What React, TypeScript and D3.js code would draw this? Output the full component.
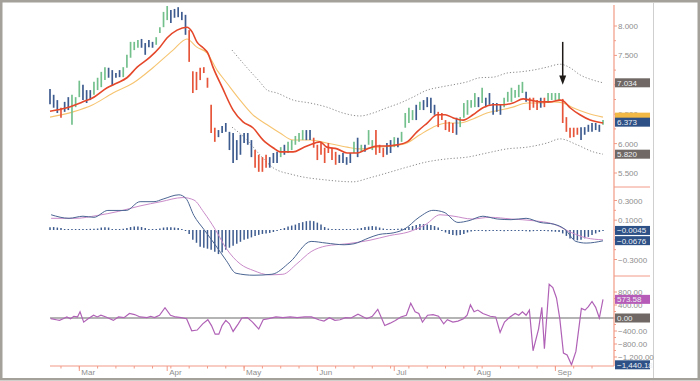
import React from "react";
import * as d3 from "d3";

// ---------- price bars (one per trading day) ----------
const barHigh = [
  6.93, 6.83, 6.74, 6.61, 6.71, 6.79, 6.83, 6.79, 7.07, 7.0,
  6.91, 6.91, 7.05, 7.12, 7.22, 7.3, 7.29, 7.25, 7.2, 7.25,
  7.3, 7.51, 7.73, 7.73, 7.76, 7.78, 7.71, 7.76, 7.73, 7.81,
  7.98, 8.24, 8.34, 8.27, 8.29, 8.32, 8.24, 8.19, 7.93, 7.23,
  7.22, 7.29, 7.3, 7.12, 6.66, 6.27, 6.23, 6.3, 6.35, 6.2,
  6.18, 6.06, 6.15, 6.18, 6.18, 6.06, 5.89, 5.81, 5.77, 5.81,
  5.77, 5.84,
  5.86, 5.94, 5.98, 6.03, 6.06, 6.13, 6.18, 6.23, 6.23, 6.23,
  6.1, 5.98, 6.01, 5.93, 6.01, 5.93, 5.86, 5.81, 5.84, 5.77,
  5.84, 6.03, 6.1, 5.98, 5.98, 6.23, 6.06, 6.23, 5.98, 5.93,
  6.01, 6.06, 6.11, 6.1, 6.2, 6.52, 6.61, 6.57, 6.66, 6.71,
  6.74, 6.79, 6.78, 6.66, 6.54, 6.52, 6.4, 6.37, 6.35, 6.44,
  6.45, 6.69, 6.74, 6.74, 6.86, 6.79, 6.95, 6.78, 6.86, 6.69,
  6.69, 6.66, 6.78, 6.88, 6.95, 6.91, 7.0, 7.05, 6.88, 6.78,
  6.78, 6.74, 6.78, 6.78, 6.86, 6.86, 6.86, 6.86, 6.76, 6.45,
  6.27, 6.27, 6.27, 6.28, 6.28, 6.32, 6.35, 6.35, 6.32, 6.4,
];
const barLow = [
  6.67, 6.61, 6.52, 6.44, 6.54, 6.57, 6.32, 6.62, 6.79, 6.74,
  6.69, 6.74, 6.83, 6.91, 6.96, 7.08, 7.12, 6.98, 7.12, 7.13,
  7.13, 7.29, 7.46, 7.59, 7.63, 7.63, 7.51, 7.64, 7.63, 7.68,
  7.88, 7.98, 8.1, 8.05, 8.14, 8.15, 8.1, 7.85, 7.39, 6.86,
  6.91, 7.08, 7.2, 6.95, 6.18, 6.03, 6.11, 6.18, 6.2, 5.89,
  5.67, 5.72, 5.81, 6.01, 5.98, 5.77, 5.59, 5.52, 5.52, 5.59,
  5.59, 5.67,
  5.67, 5.77, 5.81, 5.84, 5.89, 5.98, 6.03, 6.06, 6.06, 6.06,
  5.93, 5.72, 5.81, 5.67, 5.84, 5.72, 5.64, 5.67, 5.67, 5.64,
  5.67, 5.84, 5.77, 5.86, 5.86, 5.98, 5.89, 5.81, 5.84, 5.77,
  5.81, 5.84, 5.94, 5.94, 6.03, 6.27, 6.35, 6.4, 6.4, 6.57,
  6.57, 6.62, 6.52, 6.49, 6.28, 6.4, 6.23, 6.2, 6.18, 6.15,
  6.28, 6.44, 6.49, 6.61, 6.62, 6.62, 6.69, 6.62, 6.66, 6.49,
  6.54, 6.49, 6.62, 6.71, 6.71, 6.78, 6.79, 6.86, 6.71, 6.57,
  6.61, 6.57, 6.61, 6.62, 6.69, 6.74, 6.74, 6.74, 6.35, 6.2,
  6.1, 6.11, 6.15, 6.06, 6.15, 6.2, 6.2, 6.23, 6.2, 6.32,
];
// g = up (green), b = neutral (blue), r = down (red)
const barColor = (
  "bbbrbbgggbbbggggbbbbgggggbbbbggggbbbbbrrrrrrrrbbbbbbbbbbrrrrbb" +
  "bgbgggggbb" + "rrrrrrr" + "bbbb" + "gbgbgg" + "rrr" + "bbgbgggg" + "bgbbbb" +
  "rrrrr" + "b" + "ggggg" + "bgbbbbb" + "gggggg" + "b" + "rrr" + "br" + "gggg" +
  "rrrrr" + "bbbbbb" + "g"
).split("");

// ---------- overlays: [bar index, value] ----------
const maFast: [number, number][] = [
  [0, 6.55], [4.6, 6.61], [9, 6.71], [11.7, 6.78], [15.6, 6.95], [18.3, 7.03], [21, 7.12],
  [23.8, 7.3], [27.3, 7.47], [30, 7.64], [32, 7.8], [34.7, 7.93], [37.4, 7.98], [38.8, 7.9],
  [40.1, 7.73], [41.8, 7.63], [43.1, 7.54], [44.5, 7.3], [47, 6.96], [50, 6.57], [52.7, 6.37],
  [55.4, 6.27], [58.2, 6.06], [60.9, 5.93], [62.8, 5.86], [66.4, 5.86], [69.1, 5.93], [72.4, 6.01],
  [73.7, 6.03], [75.6, 5.94], [78.4, 5.91], [81.1, 5.84], [83.8, 5.84], [86.6, 5.91], [89.3, 5.96],
  [92, 5.96], [94.8, 5.98], [97.5, 6.03], [100.2, 6.2], [103, 6.35], [105.7, 6.49], [107.9, 6.49],
  [110, 6.44], [112.8, 6.4], [115.5, 6.49], [118.2, 6.61], [121, 6.66], [123.7, 6.66], [126.4, 6.69],
  [129.2, 6.76], [131.1, 6.74], [133.8, 6.71], [136.5, 6.71], [139.3, 6.74], [140.1, 6.73],
  [142, 6.61], [144.7, 6.49], [147.5, 6.4], [151, 6.35],
];
const maSlow: [number, number][] = [
  [0, 6.45], [6.3, 6.54], [11.7, 6.66], [17.2, 6.86], [22.7, 7.03], [28.1, 7.29], [33.6, 7.59],
  [37.4, 7.78], [40.1, 7.64], [42.9, 7.54], [45.6, 7.25], [48.3, 7.03], [51.9, 6.74], [55.4, 6.49],
  [59.3, 6.32], [62.8, 6.18], [66.4, 6.06], [71, 6.06], [75.6, 6.01], [81.1, 5.94], [84.7, 5.91],
  [89.3, 5.94], [93.7, 5.96], [97.5, 6.01], [101, 6.15], [104.6, 6.28], [108.4, 6.35], [112, 6.35],
  [115.5, 6.42], [119.3, 6.52], [122.9, 6.57], [126.4, 6.62], [130.3, 6.69], [133.8, 6.69],
  [137.4, 6.71], [140.1, 6.69], [142.8, 6.61], [146.6, 6.52], [151, 6.45],
];
const bandUpper: [number, number][] = [
  [49.7, 7.59], [53.8, 7.29], [57.3, 7.05], [59.3, 6.91], [62, 6.86], [66.4, 6.74], [71, 6.69],
  [75.6, 6.62], [80, 6.52], [84.7, 6.47], [88.2, 6.52], [92, 6.61], [95.6, 6.69], [99.1, 6.79],
  [103, 6.91], [106.5, 6.96], [110, 7.0], [113.9, 7.05], [117.4, 7.12], [121, 7.13], [124.8, 7.2],
  [128.3, 7.22], [131.9, 7.25], [135.7, 7.3], [139.3, 7.35], [142, 7.29], [144.7, 7.17],
  [148.3, 7.08], [151, 7.034],
];
const bandLower: [number, number][] = [
  [49.7, 6.28], [53.8, 6.06], [57.3, 5.81], [60.9, 5.59], [66.4, 5.47], [75.6, 5.38], [82.7, 5.35],
  [87.4, 5.42], [92, 5.5], [97.5, 5.6], [103, 5.69], [108.4, 5.74], [113.9, 5.77], [119.3, 5.84],
  [124.8, 5.91], [130.3, 5.94], [135.7, 6.01], [139.3, 6.08], [143.9, 5.98], [148.3, 5.86],
  [151, 5.82],
];

// ---------- MACD ----------
const macdLine: [number, number][] = [
  [0.3, 0.155], [5.2, 0.119], [9, 0.14], [12, 0.129], [15.8, 0.199], [20.8, 0.199], [24.6, 0.288],
  [28.4, 0.288], [30.9, 0.315], [35.2, 0.358], [37.1, 0.322], [39.3, 0.147], [42, 0.007],
  [45.1, -0.15], [48.1, -0.309], [50.8, -0.44], [55.7, -0.46], [60.6, -0.45], [65.5, -0.327],
  [71.3, -0.116], [75.4, -0.133], [80.3, -0.15], [83, -0.14], [87.1, -0.08], [89.8, -0.046],
  [93.9, -0.028], [96.7, 0.007], [100.8, 0.13], [104.6, 0.2], [107.6, 0.18], [111.4, 0.077],
  [114.4, 0.095], [118.2, 0.14], [122.1, 0.112], [125.9, 0.105], [130, 0.119], [133.8, 0.077],
  [137.6, 0.059], [140.6, 0.007], [143.6, -0.116], [146.4, -0.133], [151, -0.11],
];
const macdSignal: [number, number][] = [
  [0.3, 0.119], [7.1, 0.119], [12.8, 0.147], [18.8, 0.19], [24.6, 0.245], [30.3, 0.288],
  [36.3, 0.33], [39.3, 0.305], [42, 0.18], [45.1, 0.007], [48.1, -0.186], [51.9, -0.344],
  [55.7, -0.414], [59.8, -0.456], [63.6, -0.45], [67.4, -0.344], [71.3, -0.22], [75.4, -0.162],
  [81.1, -0.14], [87.1, -0.106], [92.8, -0.056], [97.8, -0.021], [102.7, 0.059], [106.5, 0.155],
  [110.3, 0.14], [115.2, 0.112], [120.2, 0.129], [125.9, 0.112], [131.9, 0.095], [137.6, 0.059],
  [142.5, -0.028], [146.4, -0.08], [151, -0.1],
];
const macdHist = [
  0.028, 0.03, 0.025, 0.02, 0.005, 0.004, 0.006, 0.008, 0.005, 0.006, 0.01, 0.012, 0.012, 0.015,
  0.025, 0.028, 0.025, 0.008, 0.006, 0.01, 0.012, 0.02, 0.03, 0.035, 0.035, 0.03, 0.02,
  0.008, 0.006, 0.01, 0.015, 0.025, 0.028, 0.028, 0.025, 0.02, 0.01, -0.01,
  -0.04, -0.1, -0.13, -0.17, -0.18, -0.19, -0.2, -0.22, -0.245, -0.23, -0.2, -0.18, -0.16, -0.14,
  -0.12, -0.1, -0.09, -0.075, -0.06, -0.05, -0.04, -0.035, -0.03, -0.02, -0.01,
  0.01, 0.02, 0.035, 0.045, 0.055, 0.07, 0.08, 0.09, 0.093, 0.09, 0.075, 0.055, 0.03, 0.015,
  0.008, 0.006, 0.005, 0.005, 0.006, 0.008, 0.01, 0.015, 0.02,
  0.03, 0.035, 0.04, 0.035, 0.025, 0.015, 0.01, 0.008, 0.01, 0.012, 0.015, 0.02,
  0.03, 0.04, 0.05, 0.06, 0.06, 0.055, 0.05, 0.04, 0.025,
  -0.01, -0.025, -0.04, -0.05, -0.055, -0.05, -0.04, -0.025, -0.015,
  -0.008, -0.006, -0.01, -0.012, -0.008, -0.006, -0.008, -0.01, -0.012, -0.01, -0.008, -0.006,
  -0.008, -0.01, -0.012, -0.015, -0.012, -0.01, -0.008, -0.01, -0.012, -0.015, -0.018, -0.02,
  -0.035, -0.06, -0.087, -0.1, -0.105, -0.098, -0.085, -0.07, -0.05, -0.035, -0.02, -0.0045,
];

// ---------- lower oscillator ----------
const oscLine: [number, number][] = [
  [0.2, -21], [1.7, -53], [2.6, -74], [3.6, -21], [4.6, 32], [5.6, -21], [6.5, 53], [7.5, 32],
  [8.2, 191], [9.2, -127], [10.4, -21], [11.9, 85], [12.9, 32], [13.9, 85], [15.3, 32], [17.3, -74],
  [18.7, 32], [20.2, 11], [21.7, 138], [23.1, 106], [24.6, 32], [26.5, 11], [27.5, 53], [28.5, 11],
  [29.9, 85], [31.4, 318], [32.9, 85], [34.3, 32], [35.8, 11], [37.3, -21], [38.7, -393],
  [40.2, -371], [41.7, -180], [43.1, -53], [44.1, -233], [45.1, -499], [46.1, -499], [47, -233],
  [48, -74], [49, -180], [50, -414], [51.4, -180], [52.4, 0], [53.9, 11], [55.3, -127], [57, -340],
  [58.2, -53], [59.7, -21], [61.7, 32], [63.6, 11], [65.6, 32], [67.5, 11], [69.5, 32], [71.4, 32],
  [73.4, -53], [74.8, -95], [76.3, 11], [77.8, -74], [79.2, -53], [80.7, 11], [82.2, 0], [84.1, 117],
  [85.6, 32], [86.5, -21], [88, 53], [89.5, 265], [91.4, -233], [92.9, -159], [94.3, -74],
  [95.8, 32], [97.3, 85], [98.5, 456], [99.7, 191], [100.7, 138], [101.7, -127], [103.1, 85],
  [104.6, 106], [106.1, 53], [107.5, -180], [108.5, -53], [110, -127], [111.4, -95], [112.9, -21],
  [113.9, 85], [114.8, 403], [115.8, 191], [116.8, 244], [118.2, 138], [120.2, 53], [121.7, 32],
  [122.9, -446], [124.1, -127], [125.6, 32], [127, 138], [128, 85], [129, 191], [130, 85],
  [130.9, 244], [131.9, -1008], [133.4, -340], [134.3, 329], [135, -944], [136.3, 1040],
  [137.3, 934], [138.3, 615], [139.2, -21], [140.2, -1082], [141.2, -1135], [142.4, -1440.18],
  [143.6, -1029], [145.1, 297], [146.1, 244], [147, 350], [148, 509], [149, 329], [150, 0],
  [151, 573.58],
];

// ---------- axes ----------
const monthLabels = ["Mar", "Apr", "May", "Jun", "Jul", "Aug", "Sep"];
const monthStarts = [8, 32, 53, 73, 94, 116, 138];
const priceTicks = [8, 7.5, 7, 6.5, 6, 5.5];
const macdTicks = [0.3, 0.1, -0.1, -0.3];
const oscTicks = [800, 400, 0, -400, -800, -1200];
// tick labels that sit fully under a last-value tag (not visible)
const hiddenTickLabels = [7, -0.1, 0];

// last-value tags
const priceTags = [
  { v: 7.034, c: "#6f6865", dy: 0, text: true },
  { v: 6.45, c: "#f2b845", dy: 0, text: false },
  { v: 6.373, c: "#2d5186", dy: 0.5, text: true },
  { v: 5.82, c: "#6f6865", dy: 0, text: true },
];
const macdTags = [
  { v: -0.0045, c: "#2d5186", dy: 0, text: true },
  { v: -0.0676, c: "#2d5186", dy: 4, text: true },
];
const oscTags = [
  { v: 573.58, c: "#b65cb8", dy: 0, text: true },
  { v: 0, c: "#6f6865", dy: 0, text: true },
  { v: -1440.18, c: "#2d5186", dy: 0, text: true },
];

const FONT = "'Liberation Sans', Arial, sans-serif";
const AXIS = "#f29a86";
const LABEL = "#8e8e8e";
const COLORS: Record<string, string> = { g: "#74c08d", b: "#3e5c8f", r: "#e6553a" };

export default function App() {
  const n = barHigh.length;
  const x = d3.scaleLinear().domain([0, n - 1]).range([50, 603]);
  const yP = d3.scaleLinear().domain([5.5, 8]).range([173, 26]);
  const yM = d3.scaleLinear().domain([-0.3, 0.3]).range([259.5, 200.5]);
  const yO = d3.scaleLinear().domain([-1200, 800]).range([357, 292]);

  const smooth = (ys: d3.ScaleLinear<number, number>) =>
    d3.line<[number, number]>().x((d) => x(d[0])).y((d) => ys(d[1])).curve(d3.curveMonotoneX);
  const straight = (ys: d3.ScaleLinear<number, number>) =>
    d3.line<[number, number]>().x((d) => x(d[0])).y((d) => ys(d[1]));

  const AX = 614;
  const fmtP = d3.format(".3f");
  const fmtM = d3.format(".4f");
  const fmtO = d3.format(",.2f");

  const tickGroup = (ticks: number[], ys: (v: number) => number, fmt: (v: number) => string, key: string) =>
    ticks.map((t) => (
      <g key={key + t}>
        <line x1={AX} x2={AX + 3} y1={ys(t)} y2={ys(t)} stroke={AXIS} strokeWidth={1} />
        {hiddenTickLabels.includes(t) ? null : (
          <text x={AX + 4} y={ys(t) + 3} fontSize={8} fill={LABEL} fontFamily={FONT}>
            {fmt(t)}
          </text>
        )}
      </g>
    ));

  const minorTicks = (ticks: number[], ys: (v: number) => number, key: string) =>
    ticks.slice(0, -1).map((t, i) => {
      const m = (ys(t) + ys(ticks[i + 1])) / 2;
      return <line key={key + i} x1={AX} x2={AX + 2} y1={m} y2={m} stroke={AXIS} />;
    });

  const tags = (
    list: { v: number; c: string; dy: number; text: boolean }[],
    ys: (v: number) => number,
    fmt: (v: number) => string,
    key: string
  ) =>
    list.map((t) => {
      const cy = ys(t.v) + t.dy;
      return (
        <g key={key + t.v}>
          <rect x={AX + 1} y={cy - 4.5} width={35} height={9} fill={t.c} />
          {t.text ? (
            <text x={AX + 3} y={cy + 3} fontSize={8} fill="#eef0f4" fontFamily={FONT}>
              {fmt(t.v)}
            </text>
          ) : null}
        </g>
      );
    });

  const weekTicks = d3.range(3, n, 5);
  const arrowX = x(140);

  return (
    <svg
      width={700}
      height={381}
      style={{ position: "absolute", left: 0, top: 0, background: "#fff" }}
    >
      <rect x={1.25} y={1.25} width={697.5} height={378} fill="#fff" stroke="#a3a19a" strokeWidth={2.5} />
      <line x1={653.5} x2={653.5} y1={2} y2={378} stroke="#cfcfcf" strokeWidth={1} />

      {/* ---- price panel ---- */}
      <path d={smooth(yP)(bandUpper) || ""} fill="none" stroke="#8a8a8a" strokeWidth={1} strokeDasharray="1.2,2" />
      <path d={smooth(yP)(bandLower) || ""} fill="none" stroke="#8a8a8a" strokeWidth={1} strokeDasharray="1.2,2" />
      <path d={smooth(yP)(maSlow) || ""} fill="none" stroke="#f6c470" strokeWidth={1.1} />
      {barHigh.map((h, i) => (
        <line
          key={"bar" + i}
          x1={x(i)}
          x2={x(i)}
          y1={yP(h)}
          y2={yP(barLow[i])}
          stroke={COLORS[barColor[i]]}
          strokeWidth={1.7}
        />
      ))}
      <path d={smooth(yP)(maFast) || ""} fill="none" stroke="#e4472a" strokeWidth={1.6} />

      {/* arrow */}
      <line x1={arrowX} x2={arrowX} y1={yP(7.73)} y2={yP(7.12)} stroke="#1e1a18" strokeWidth={1.5} />
      <path
        d={`M${arrowX - 3.5},${yP(7.16)} L${arrowX + 3.5},${yP(7.16)} L${arrowX},${yP(7.0)} Z`}
        fill="#1e1a18"
      />

      {/* ---- MACD panel ---- */}
      {macdHist.map((v, i) => (
        <line
          key={"h" + i}
          x1={x(i)}
          x2={x(i)}
          y1={yM(0)}
          y2={Math.abs(yM(v) - yM(0)) < 1 ? yM(0) + (v >= 0 ? -1 : 1) : yM(v)}
          stroke="#3e5c8f"
          strokeWidth={1.5}
        />
      ))}
      <path d={smooth(yM)(macdSignal) || ""} fill="none" stroke="#c98bc9" strokeWidth={1} />
      <path d={smooth(yM)(macdLine) || ""} fill="none" stroke="#4a6592" strokeWidth={1} />

      {/* ---- oscillator panel ---- */}
      <line x1={50} x2={AX} y1={yO(0)} y2={yO(0)} stroke="#b4b4b4" strokeWidth={2} />
      <path d={straight(yO)(oscLine) || ""} fill="none" stroke="#b062b6" strokeWidth={1.2} />

      {/* ---- right axis ---- */}
      <line x1={AX} x2={AX} y1={5} y2={366} stroke={AXIS} strokeWidth={1.2} />
      <line x1={AX} x2={650} y1={187} y2={187} stroke={AXIS} strokeWidth={1} />
      <line x1={AX} x2={650} y1={276} y2={276} stroke={AXIS} strokeWidth={1} />
      {minorTicks(priceTicks, yP, "pm")}
      {minorTicks(macdTicks, yM, "mm")}
      {minorTicks(oscTicks, yO, "om")}
      {tickGroup(priceTicks, yP, fmtP, "p")}
      {tickGroup(macdTicks, yM, fmtM, "m")}
      {tickGroup(oscTicks, yO, fmtO, "o")}
      {tags(priceTags, yP, fmtP, "pt")}
      {tags(macdTags, yM, fmtM, "mt")}
      {tags(oscTags, yO, fmtO, "ot")}

      {/* ---- bottom axis ---- */}
      <line x1={50} x2={AX} y1={366} y2={366} stroke={AXIS} strokeWidth={1.2} />
      {weekTicks.map((t) => (
        <line key={"w" + t} x1={x(t)} x2={x(t)} y1={366} y2={368.5} stroke={AXIS} strokeWidth={1} />
      ))}
      {monthStarts.map((m, i) => (
        <g key={"mo" + m}>
          <line x1={x(m)} x2={x(m)} y1={366} y2={371} stroke={AXIS} strokeWidth={1} />
          <text x={x(m) + 2} y={375} fontSize={8} fill={LABEL} fontFamily={FONT}>
            {monthLabels[i]}
          </text>
        </g>
      ))}
    </svg>
  );
}
